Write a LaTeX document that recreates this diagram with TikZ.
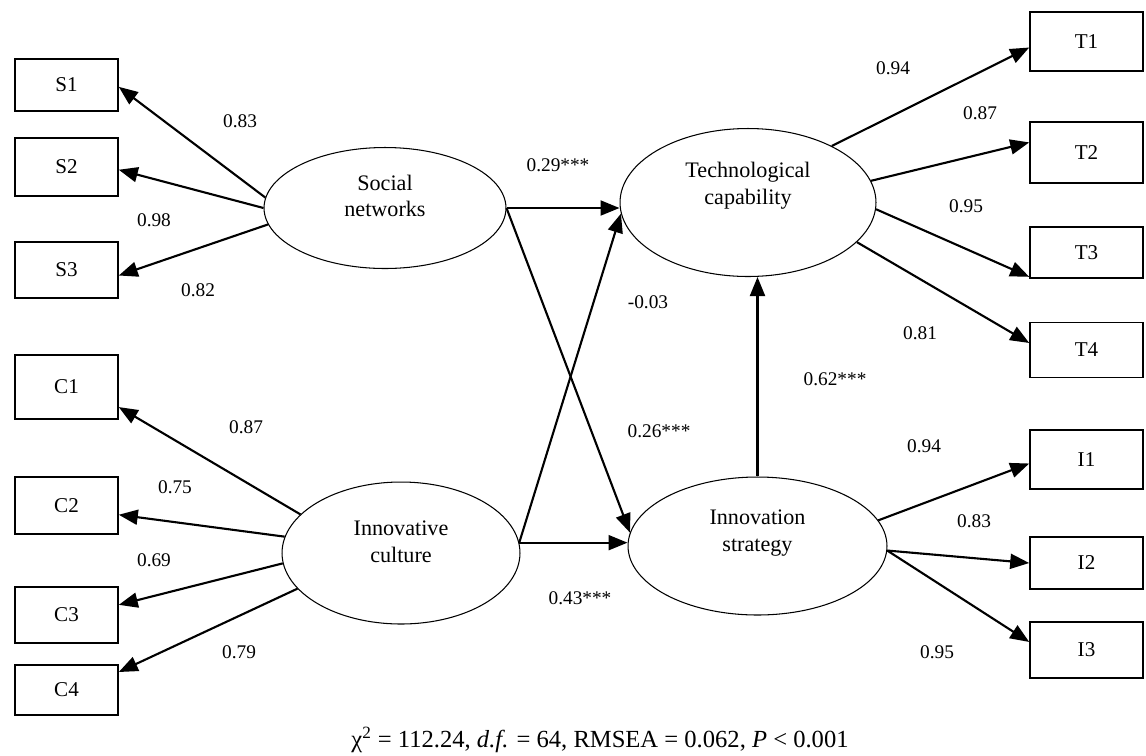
\documentclass[tikz,border=0pt]{standalone}
\usepackage{fontspec}
\setmainfont{Liberation Serif}
\usetikzlibrary{shapes.geometric,arrows.meta}

\begin{document}
\begin{tikzpicture}[x=0.02cm,y=-0.02cm,
    latent/.style={draw,ellipse,line width=0.6pt,inner sep=0},
    lattext/.style={align=center,font=\fontsize{12.6pt}{15.2pt}\selectfont},
    indleft/.style={draw,rectangle,line width=0.9pt,inner sep=0,minimum width=2.06cm,font=\fontsize{12pt}{14pt}\selectfont},
    indright/.style={indleft,minimum width=2.26cm},
    loading/.style={line width=1.2pt,-{Triangle[length=3.8mm,width=3mm]}},
    effect/.style={loading},
    coef/.style={font=\fontsize{11pt}{13pt}\selectfont}]
    \useasboundingbox (0,0) rectangle (1146,755);
    % latent variables
    \node[latent,minimum width=4.84cm,minimum height=2.42cm] (sn) at (385,208) {};
    \node[lattext] (sn-txt) at (385,196) {Social\\networks};
    \node[latent,minimum width=4.76cm,minimum height=2.84cm] (ic) at (401,553) {};
    \node[lattext] (ic-txt) at (401,542) {Innovative\\culture};
    \node[latent,minimum width=5.12cm,minimum height=2.96cm] (tc) at (748,202.5) {};
    \node[lattext] (tc-txt) at (748,186) {Technological\\capability};
    \node[latent,minimum width=5.18cm,minimum height=2.76cm] (is) at (757.5,546) {};
    \node[lattext] (is-txt) at (757.5,533) {Innovation\\strategy};
    % indicators
    \node[indleft,minimum height=1.04cm] (s1) at (66.5,85) {S1};
    \node[indleft,minimum height=1.16cm] (s2) at (66.5,167) {S2};
    \node[indleft,minimum height=1.12cm] (s3) at (66.5,270) {S3};
    \node[indleft,minimum height=1.28cm] (c1) at (66.5,387) {C1};
    \node[indleft,minimum height=1.14cm] (c2) at (66.5,505.5) {C2};
    \node[indleft,minimum height=1.12cm] (c3) at (66.5,615) {C3};
    \node[indleft,minimum height=1.00cm] (c4) at (66.5,690) {C4};
    \node[indright,minimum height=1.18cm] (t1) at (1086.5,41.5) {T1};
    \node[indright,minimum height=1.22cm] (t2) at (1086.5,152.5) {T2};
    \node[indright,minimum height=1.02cm] (t3) at (1086.5,252.5) {T3};
    \node[indright,minimum height=1.10cm] (t4) at (1086.5,350) {T4};
    \node[indright,minimum height=1.18cm] (i1) at (1086.5,459.5) {I1};
    \node[indright,minimum height=1.04cm] (i2) at (1086.5,563) {I2};
    \node[indright,minimum height=1.12cm] (i3) at (1086.5,650) {I3};
    % loadings
    \foreach \from/\to in {sn.175/s1.-2,sn.180/s2.-3,sn.188/s3.-6,
        ic.159/c1.-21,ic.172/c2.-10,ic.185/c3.11,ic.199/c4.19,
        tc.34/t1.186,tc.10/t2.170,tc.-3/t3.203,tc.-20/t4.173,
        is.12/i1.184,is.-2/i2.west,is.-2/i3.172}
        \draw[loading] (\from) -- (\to);
    % structural paths
    \draw[effect] (sn.east) -- (sn.east -| tc.west);
    \draw[effect] (sn.east) -- (is.174);
    \draw[effect] (ic.5) -- (tc.185);
    \draw[effect] (ic.5) -- (ic.5 -| is.west);
    \draw[effect] (is.north) -- (is.north |- tc.south);
    % coefficients
    \node[coef] (l-s1) at (240,121) {0.83};
    \node[coef] (l-s2) at (154,220) {0.98};
    \node[coef] (l-s3) at (198,290) {0.82};
    \node[coef] (l-c1) at (246,427) {0.87};
    \node[coef] (l-c2) at (175,487) {0.75};
    \node[coef] (l-c3) at (154,560) {0.69};
    \node[coef] (l-c4) at (239,652) {0.79};
    \node[coef] (l-sntc) at (558,165) {0.29***};
    \node[coef] (l-ictc) at (648,302) {-0.03};
    \node[coef] (l-snis) at (659,431) {0.26***};
    \node[coef] (l-icis) at (580,598) {0.43***};
    \node[coef] (l-istc) at (835,379) {0.62***};
    \node[coef] (l-t1) at (893,68) {0.94};
    \node[coef] (l-t2) at (980,113) {0.87};
    \node[coef] (l-t3) at (966,206) {0.95};
    \node[coef] (l-t4) at (920,333) {0.81};
    \node[coef] (l-i1) at (924,446) {0.94};
    \node[coef] (l-i2) at (974,521) {0.83};
    \node[coef] (l-i3) at (937,652) {0.95};
    % fit statistics
    \node[font=\fontsize{14pt}{16pt}\selectfont] (fit) at (600,740)
        {χ\textsuperscript{2} = 112.24, \textit{d.f.} = 64, RMSEA = 0.062, \textit{P} < 0.001};
\end{tikzpicture}
\end{document}
